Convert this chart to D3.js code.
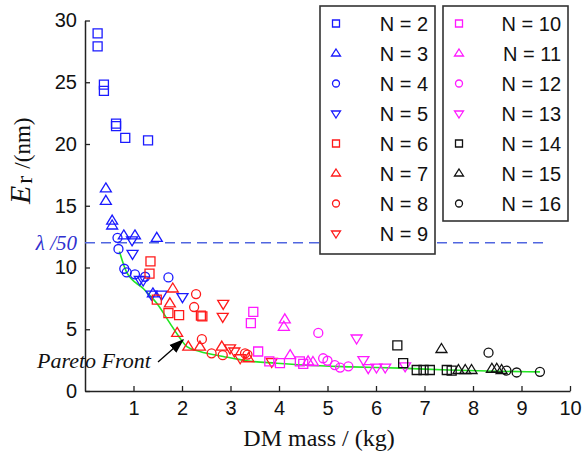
<!DOCTYPE html>
<html>
<head>
<meta charset="utf-8">
<script src="https://cdn.jsdelivr.net/npm/d3@7"></script>
<style>
  body { margin: 0; background: #fff; }
  svg text { fill: #111; }
</style>
</head>
<body>
<svg id="chart" width="582" height="454"></svg>
<script>
/*
Error vs DM mass for N = 2..16 designs, with the Pareto front.
*/

// series labels, colour group and marker shape per series
var seriesN = [2, 3, 4, 5, 6, 7, 8, 9, 10, 11, 12, 13, 14, 15, 16];
var seriesColor = ["#1a1aff", "#1a1aff", "#1a1aff", "#1a1aff",
                   "#ff1a1a", "#ff1a1a", "#ff1a1a", "#ff1a1a",
                   "#ff1aff", "#ff1aff", "#ff1aff", "#ff1aff",
                   "#111111", "#111111", "#111111"];
var seriesShape = ["square", "up", "circle", "down"];

// [mass kg, error nm]
var n2 = [[0.26, 28.95], [0.26, 27.9], [0.39, 24.8], [0.39, 24.3], [0.64, 21.65], [0.64, 21.45], [0.83, 20.5], [1.30, 20.3]];
var n3 = [[0.43, 16.4], [0.43, 15.4], [0.56, 13.8], [0.56, 13.4], [0.80, 12.6], [1.03, 12.6], [1.48, 12.4], [1.40, 7.9]];
var n4 = [[0.67, 12.4], [0.69, 11.5], [0.81, 9.9], [0.86, 9.6], [1.03, 9.45], [1.24, 9.25], [1.72, 9.2]];
var n5 = [[0.97, 12.2], [0.98, 11.1], [1.13, 9.0], [1.20, 8.95], [1.37, 7.8], [1.58, 7.8], [2.01, 7.6]];
var n6 = [[1.35, 10.5], [1.33, 9.5], [1.48, 7.4], [1.72, 6.3], [1.94, 6.15], [2.39, 6.1], [2.42, 6.05]];
var n7 = [[1.81, 8.3], [1.75, 7.1], [1.90, 4.7], [2.13, 3.6], [2.37, 3.6], [2.82, 3.6], [3.37, 2.65]];
var n8 = [[2.29, 7.85], [2.25, 6.8], [2.41, 4.2], [2.61, 3.05], [2.84, 2.9], [3.30, 3.05], [3.35, 2.95]];
var n9 = [[2.85, 7.05], [2.84, 6.0], [2.99, 3.45], [3.08, 3.2], [3.20, 2.65], [3.85, 2.35]];
var n10 = [[3.47, 6.4], [3.42, 5.5], [3.57, 3.2], [3.80, 2.4], [4.02, 2.25], [4.43, 2.4], [4.50, 2.2]];
var n11 = [[4.12, 5.8], [4.10, 5.2], [4.23, 2.9], [4.60, 2.4], [4.70, 2.35]];
var n12 = [[4.81, 4.7], [4.91, 2.65], [5.0, 2.45], [5.15, 2.1], [5.26, 1.9], [5.43, 2.0]];
var n13 = [[5.60, 4.25], [5.74, 2.5], [5.84, 1.85], [6.01, 1.9], [6.19, 1.9], [6.60, 2.0]];
var n14 = [[6.44, 3.7], [6.56, 2.25], [6.84, 1.7], [6.98, 1.7], [7.11, 1.7], [7.46, 1.7], [7.56, 1.65]];
var n15 = [[7.35, 3.4], [7.70, 1.7], [7.84, 1.7], [7.97, 1.7], [8.39, 1.8], [8.49, 1.8], [8.59, 1.7]];
var n16 = [[8.32, 3.1], [8.69, 1.65], [8.90, 1.5], [9.38, 1.55]];
var seriesValues = [n2, n3, n4, n5, n6, n7, n8, n9, n10, n11, n12, n13, n14, n15, n16];

// pareto front (green line)
var pareto = [[0.71, 11.3], [0.86, 9.6], [1.20, 8.3], [1.48, 7.1], [1.75, 5.5], [1.92, 4.5], [2.10, 3.6],
              [2.37, 3.2], [2.85, 2.8], [3.33, 2.45], [3.95, 2.25], [4.5, 2.1], [5.5, 1.95], [6.5, 1.85],
              [7.5, 1.7], [8.5, 1.6], [9.38, 1.55]];

var lambdaLevel = 12;
var xTicks = [1, 2, 3, 4, 5, 6, 7, 8, 9, 10];
var yTicks = [0, 5, 10, 15, 20, 25, 30];

function main() {
  var svg = d3.select("#chart");
  var x = d3.scaleLinear().domain([0, 10]).range([85, 570]);
  var y = d3.scaleLinear().domain([0, 30]).range([391, 20.5]);

  // axes, ticks pointing inward
  var xAxis = svg.append("g")
    .attr("transform", "translate(0," + y(0) + ")")
    .call(d3.axisBottom(x).tickValues(xTicks).tickSizeInner(-5).tickSizeOuter(0).tickPadding(10));
  var yAxis = svg.append("g")
    .attr("transform", "translate(" + x(0) + ",0)")
    .call(d3.axisLeft(y).tickValues(yTicks).tickSizeInner(-5).tickSizeOuter(0).tickPadding(8));
  [xAxis, yAxis].forEach(function(g) {
    g.select(".domain").attr("stroke", "#222").attr("stroke-width", 1.5);
    g.selectAll(".tick line").attr("stroke", "#222").attr("stroke-width", 1.3);
    g.selectAll(".tick text").attr("font-family", "Liberation Sans, Arial, sans-serif")
      .attr("font-size", 20).attr("fill", "#111");
  });

  // lambda/50 reference line
  svg.append("line")
    .attr("x1", x(0)).attr("x2", 545)
    .attr("y1", y(lambdaLevel)).attr("y2", y(lambdaLevel))
    .attr("stroke", "#5066e0").attr("stroke-width", 1.6)
    .attr("stroke-dasharray", "10,6");
  svg.append("text")
    .attr("x", 77).attr("y", y(lambdaLevel))
    .attr("dy", "0.35em")
    .attr("text-anchor", "end")
    .attr("font-family", "Liberation Serif, Times New Roman, serif")
    .attr("font-style", "italic").attr("font-size", 21)
    .style("fill", "#3030d0")
    .text("λ /50");

  // pareto front
  svg.append("path")
    .datum(pareto)
    .attr("fill", "none")
    .attr("stroke", "#22e622")
    .attr("stroke-width", 1.6)
    .attr("d", d3.line().x(d => x(d[0])).y(d => y(d[1])).curve(d3.curveMonotoneX));

  // markers
  seriesValues.forEach(function(vals, i) {
    var shape = seriesShape[i % 4];
    svg.append("g").selectAll("path")
      .data(vals)
      .enter().append("path")
      .attr("transform", d => "translate(" + x(d[0]) + "," + y(d[1]) + ")")
      .attr("d", markerPath(shape, 9))
      .attr("fill", "none")
      .attr("stroke", seriesColor[i])
      .attr("stroke-width", 1.3);
  });

  // Pareto Front annotation with arrow
  svg.append("defs").append("marker")
    .attr("id", "head")
    .attr("viewBox", "0 0 10 10")
    .attr("refX", 9).attr("refY", 5)
    .attr("markerUnits", "userSpaceOnUse")
    .attr("markerWidth", 15).attr("markerHeight", 15)
    .attr("orient", "auto")
    .append("path").attr("d", "M0,1.5 L10,5 L0,8.5 Z").attr("fill", "#000");
  svg.append("line")
    .attr("x1", 158).attr("y1", 362)
    .attr("x2", 183).attr("y2", 340)
    .attr("stroke", "#000").attr("stroke-width", 1.3)
    .attr("marker-end", "url(#head)");
  svg.append("text")
    .attr("x", 37).attr("y", 368)
    .attr("font-family", "Liberation Serif, Times New Roman, serif")
    .attr("font-style", "italic").attr("font-size", 22)
    .text("Pareto Front");

  // axis titles
  svg.append("text")
    .attr("x", 319).attr("y", 446)
    .attr("text-anchor", "middle")
    .attr("font-family", "Liberation Serif, Times New Roman, serif")
    .attr("font-size", 24)
    .text("DM mass / (kg)");
  var yl = svg.append("text")
    .attr("transform", "translate(30,204) rotate(-90)")
    .attr("font-family", "Liberation Serif, Times New Roman, serif");
  yl.append("tspan").attr("font-style", "italic").attr("font-size", 30).text("E");
  yl.append("tspan").attr("font-size", 24).attr("dy", 2).attr("dx", 2).text("r");
  yl.append("tspan").attr("font-size", 23).attr("dy", -2).attr("dx", 7).text("/(nm)");

  drawLegend(svg, 320, 6, 115, 248, 0, 8);
  drawLegend(svg, 443, 6, 125, 215, 8, 15);
}

// marker outline centred on 0,0
function markerPath(shape, s) {
  var h = s / 2;
  if (shape === "square") return "M" + (-h) + "," + (-h) + "h" + s + "v" + s + "h" + (-s) + "Z";
  if (shape === "circle") return d3.arc()({innerRadius: 0, outerRadius: h, startAngle: 0, endAngle: 2 * Math.PI});
  if (shape === "up") return "M0," + (-h - 1) + "L" + (h + 1) + "," + (h - 1) + "L" + (-h - 1) + "," + (h - 1) + "Z";
  return "M0," + (h + 1) + "L" + (h + 1) + "," + (-h + 1) + "L" + (-h - 1) + "," + (-h + 1) + "Z";
}

// one legend box holding series from..to-1
function drawLegend(svg, bx, by, bw, bh, from, to) {
  var g = svg.append("g");
  g.append("rect")
    .attr("x", bx).attr("y", by).attr("width", bw).attr("height", bh)
    .attr("fill", "#fff").attr("stroke", "#333").attr("stroke-width", 1.6);
  var rows = d3.range(from, to);
  rows.forEach(function(i, k) {
    var ry = by + 17.5 + 30 * k;
    g.append("path")
      .attr("transform", "translate(" + (bx + 16) + "," + ry + ")")
      .attr("d", markerPath(seriesShape[i % 4], 7))
      .attr("fill", "none")
      .attr("stroke", seriesColor[i])
      .attr("stroke-width", 1.3);
    g.append("text")
      .attr("x", bx + bw - 7).attr("y", ry)
      .attr("dy", "0.35em")
      .attr("text-anchor", "end")
      .attr("font-family", "Liberation Sans, Arial, sans-serif")
      .attr("font-size", 20)
      .text("N = " + seriesN[i]);
  });
}

main();
</script>
</body>
</html>
